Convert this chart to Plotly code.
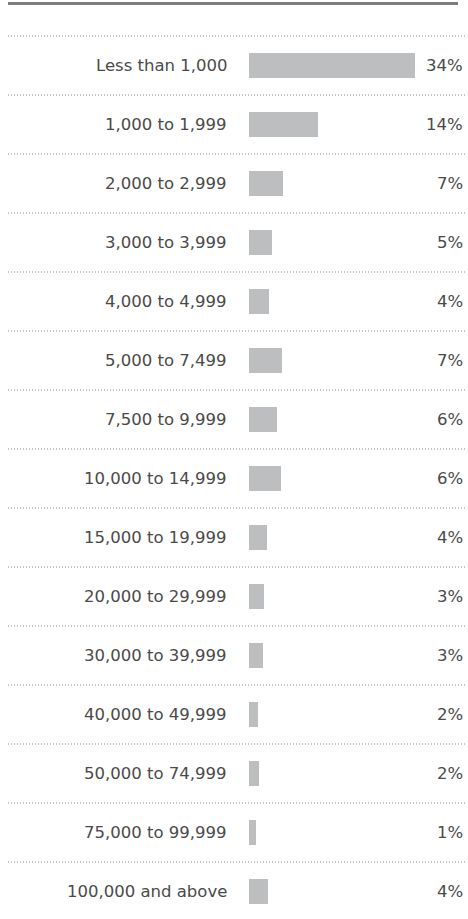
import plotly.graph_objects as go

categories = ["Less than 1,000", "1,000 to 1,999", "2,000 to 2,999", "3,000 to 3,999",
              "4,000 to 4,999", "5,000 to 7,499", "7,500 to 9,999", "10,000 to 14,999",
              "15,000 to 19,999", "20,000 to 29,999", "30,000 to 39,999", "40,000 to 49,999",
              "50,000 to 74,999", "75,000 to 99,999", "100,000 and above"]
values = [34.0, 14.1, 7.0, 4.7, 4.1, 6.8, 5.7, 6.5, 3.7, 3.1, 2.9, 1.8, 2.0, 1.4, 3.9]
value_labels = ["34%", "14%", "7%", "5%", "4%", "7%", "6%", "6%", "4%", "3%", "3%", "2%", "2%", "1%", "4%"]

W, H = 468, 919
TEXT = "#4a4a4a"
FONT = "DejaVu Sans"
FSIZE = 16.5

fig = go.Figure(go.Bar(
    x=values, y=categories, orientation="h",
    marker=dict(color="#bdbec0", line=dict(width=0)),
    width=0.42, hoverinfo="skip",
))

# x axis: bars start at px 249, ~4.88 px per percent
x0_px, x1_px = 249, 465
px_per = 166 / 34.0
fig.update_xaxes(domain=[x0_px / W, x1_px / W], range=[0, (x1_px - x0_px) / px_per],
                 visible=False, fixedrange=True)
top_i = -65.5 / 59.0
bot_i = (H - 65.5) / 59.0
fig.update_yaxes(domain=[0, 1], range=[bot_i, top_i], showticklabels=False,
                 showgrid=False, zeroline=False, showline=False, fixedrange=True,
                 categoryorder="array", categoryarray=categories)

shapes = []
# thick top rule
shapes.append(dict(type="line", xref="paper", yref="paper", x0=8 / W, x1=458 / W,
                   y0=1 - 3.5 / H, y1=1 - 3.5 / H, line=dict(color="#7d7d7d", width=3)))
# dotted separators above each row
for i in range(len(categories)):
    shapes.append(dict(type="line", xref="paper", yref="y", x0=8 / W, x1=466 / W,
                       y0=i - 0.5, y1=i - 0.5,
                       line=dict(color="#8a8a8a", width=1, dash="1px,2px")))

annotations = []
for cat, lab in zip(categories, value_labels):
    annotations.append(dict(xref="paper", yref="y", x=229 / W, y=cat, text=cat,
                            showarrow=False, xanchor="right", yanchor="middle",
                            font=dict(family=FONT, size=FSIZE, color=TEXT)))
    annotations.append(dict(xref="paper", yref="y", x=465 / W, y=cat, text=lab,
                            showarrow=False, xanchor="right", yanchor="middle",
                            font=dict(family=FONT, size=FSIZE, color=TEXT)))

fig.update_layout(width=W, height=H, margin=dict(l=0, r=0, t=0, b=0),
                  plot_bgcolor="white", paper_bgcolor="white", showlegend=False,
                  shapes=shapes, annotations=annotations, bargap=0)

fig.write_html("out.html", config={"displayModeBar": False},
               post_script="document.body.style.margin='0';document.body.style.overflow='hidden';")
